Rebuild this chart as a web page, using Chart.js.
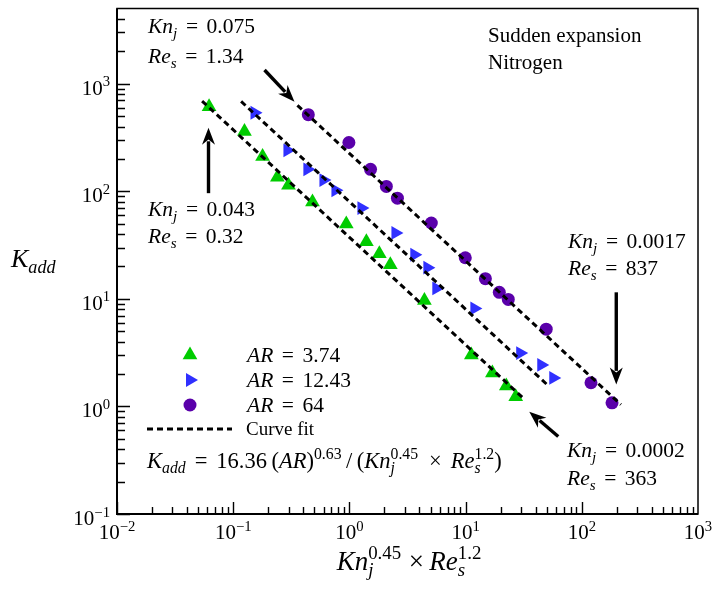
<!DOCTYPE html>
<html>
<head>
<meta charset="utf-8">
<script src="https://cdn.jsdelivr.net/npm/chart.js@4.4.1/dist/chart.umd.min.js"></script>
<style>
  html, body { margin: 0; padding: 0; background: #fff; }
  canvas { display: block; }
</style>
</head>
<body>
<canvas id="kaddChart" width="713" height="590"></canvas>
<script>
// K_add against Kn_j^0.45 x Re_s^1.2 for the sudden expansion (nitrogen)
const ar374X = [0.062, 0.125, 0.179, 0.240, 0.299, 0.481, 0.94, 1.40, 1.81, 2.25, 4.42, 11.2, 17.0, 22.4, 27.0];
const ar374Y = [610, 359, 211, 135, 114, 79.3, 49.7, 33.9, 26.3, 20.8, 9.67, 3.0, 2.05, 1.55, 1.23];

const ar1243X = [0.1525, 0.293, 0.435, 0.598, 0.758, 1.27, 2.49, 3.62, 4.69, 5.60, 11.9, 29.5, 44.8, 56.8];
const ar1243Y = [537, 240, 160, 127, 102, 69.8, 41.0, 25.7, 19.5, 12.5, 8.15, 3.13, 2.43, 1.84];

const ar64X = [0.443, 0.99, 1.52, 2.08, 2.59, 5.07, 9.94, 14.8, 19.5, 23.3, 49.4, 120, 182];
const ar64Y = [515, 284, 160, 111, 86.3, 50.7, 24.1, 15.4, 11.5, 9.87, 5.22, 1.66, 1.08];

// curve fit end points, one straight line per aspect ratio
const fit374X = [0.054, 32];
const fit374Y = [690, 1.17];
const fit1243X = [0.117, 51.4];
const fit1243Y = [684, 1.56];
const fit64X = [0.357, 217];
const fit64Y = [630, 1.04];

const xTickExps = [-2, -1, 0, 1, 2, 3];
const yTickExps = [-1, 0, 1, 2, 3];
const legendLabels = ['3.74', '12.43', '64'];

const GREEN = '#00cc00';
const BLUE = '#3030ff';
const PURPLE = '#5a00aa';
const SERIF = '"Liberation Serif", "DejaVu Serif", serif';

const pairs = (xs, ys) => xs.map((x, i) => ({ x: x, y: ys[i] }));

function fitLine(xs, ys) {
  return {
    data: pairs(xs, ys),
    showLine: true,
    borderColor: '#000',
    borderWidth: 3,
    borderDash: [6, 4],
    pointRadius: 0,
    fill: false
  };
}

// draw a run of text pieces, italic / subscript / superscript
function drawRich(ctx, x, y, parts, size, align) {
  const small = size * 0.7;
  const runs = parts.map(p => {
    const fMain = (p.i ? 'italic ' : '') + (p.sub || p.sup ? small : size) + 'px ' + SERIF;
    ctx.font = fMain;
    let w = ctx.measureText(p.t).width;
    let supW = 0;
    if (p.sub && p.sup) {
      ctx.font = small + 'px ' + SERIF;
      supW = ctx.measureText(p.sup).width;
    }
    return { p: p, font: fMain, width: Math.max(w, supW) + (p.gap || 0) };
  });
  const total = runs.reduce((s, r) => s + r.width, 0);
  let cx = align === 'center' ? x - total / 2 : align === 'right' ? x - total : x;
  ctx.fillStyle = '#000';
  ctx.textBaseline = 'alphabetic';
  ctx.textAlign = 'left';
  runs.forEach(r => {
    const p = r.p;
    ctx.font = r.font;
    if (p.sub && p.sup) {
      ctx.fillText(p.t, cx, y + size * 0.22);
      ctx.font = small + 'px ' + SERIF;
      ctx.fillText(p.sup, cx, y - size * 0.4);
    } else if (p.sub) {
      ctx.fillText(p.t, cx, y + size * 0.22);
    } else if (p.sup) {
      ctx.fillText(p.t, cx, y - size * 0.4);
    } else {
      ctx.fillText(p.t, cx, y);
    }
    cx += r.width;
  });
}

// math-style relation: wider spacing around "="
const EQ = '\u2009\u2009=\u2009\u2009';

function knRe(kn, re) {
  return [
    [{ t: 'Kn', i: true }, { t: 'j', i: true, sub: true }, { t: EQ + kn }],
    [{ t: 'Re', i: true }, { t: 's', i: true, sub: true }, { t: EQ + re }]
  ];
}

function marker(ctx, style, x, y, r, color) {
  ctx.fillStyle = color;
  ctx.beginPath();
  if (style === 'circle') {
    ctx.arc(x, y, r, 0, Math.PI * 2);
  } else {
    const rot = style === 'right' ? Math.PI / 2 : 0;
    for (let k = 0; k < 3; k++) {
      const a = rot + k * 2 * Math.PI / 3;
      const px = x + Math.sin(a) * r;
      const py = y - Math.cos(a) * r;
      k === 0 ? ctx.moveTo(px, py) : ctx.lineTo(px, py);
    }
    ctx.closePath();
  }
  ctx.fill();
}

// arrows given in data units: [tailX, tailY, tipX, tipY]
const arrows = [
  [0.186, 1340, 0.337, 680],
  [0.0613, 96, 0.0613, 390],
  [198, 11.5, 198, 1.6],
  [62.7, 0.525, 35.3, 0.894]
];

function drawArrow(ctx, x0, y0, x1, y1) {
  const dx = x1 - x0, dy = y1 - y0;
  const len = Math.hypot(dx, dy);
  const ux = dx / len, uy = dy / len;
  const head = 17, half = 6.5;
  ctx.strokeStyle = '#000';
  ctx.lineWidth = 3.4;
  ctx.beginPath();
  ctx.moveTo(x0, y0);
  ctx.lineTo(x1 - ux * head * 0.8, y1 - uy * head * 0.8);
  ctx.stroke();
  ctx.fillStyle = '#000';
  ctx.beginPath();
  ctx.moveTo(x1, y1);
  ctx.lineTo(x1 - ux * head - uy * half, y1 - uy * head + ux * half);
  ctx.lineTo(x1 - ux * head * 0.7, y1 - uy * head * 0.7);
  ctx.lineTo(x1 - ux * head + uy * half, y1 - uy * head - ux * half);
  ctx.closePath();
  ctx.fill();
}

const decorPlugin = {
  id: 'decor',
  afterDraw(chart) {
    const ctx = chart.ctx;
    const xs = chart.scales.x, ys = chart.scales.y;
    const a = chart.chartArea;
    ctx.save();

    // frame
    ctx.strokeStyle = '#000';
    ctx.lineWidth = 1.5;
    ctx.strokeRect(a.left, a.top, a.right - a.left, a.bottom - a.top);
    ctx.lineWidth = 2;
    ctx.beginPath();
    ctx.moveTo(a.left, a.top);
    ctx.lineTo(a.left, a.bottom);
    ctx.lineTo(a.right, a.bottom);
    ctx.stroke();

    // inward ticks on the left and bottom axes
    ctx.lineWidth = 1.4;
    ctx.beginPath();
    for (let d = -2; d <= 2; d++) {
      for (let m = 1; m <= 9; m++) {
        const px = Math.round(xs.getPixelForValue(m * Math.pow(10, d))) + 0.5;
        const l = m === 1 ? 12 : 7;
        ctx.moveTo(px, a.bottom);
        ctx.lineTo(px, a.bottom - l);
      }
    }
    for (let d = -1; d <= 3; d++) {
      for (let m = 1; m <= 9; m++) {
        const v = m * Math.pow(10, d);
        if (v >= ys.max) continue;
        const py = Math.round(ys.getPixelForValue(v)) + 0.5;
        const l = m === 1 ? 13 : 8;
        ctx.moveTo(a.left, py);
        ctx.lineTo(a.left + l, py);
      }
    }
    ctx.stroke();

    // tick labels 10^n
    const expTxt = n => (n < 0 ? '\u2212' + (-n) : String(n));
    xTickExps.forEach(n => {
      drawRich(ctx, xs.getPixelForValue(Math.pow(10, n)), a.bottom + 25,
        [{ t: '10' }, { t: expTxt(n), sup: true }], 21, 'center');
    });
    yTickExps.forEach(n => {
      drawRich(ctx, a.left - 7, ys.getPixelForValue(Math.pow(10, n)) + 11,
        [{ t: '10' }, { t: expTxt(n), sup: true }], 21, 'right');
    });

    // axis titles
    drawRich(ctx, 409, 570, [
      { t: 'Kn', i: true }, { t: 'j', i: true, sub: true, sup: '0.45', gap: 2 },
      { t: '\u2009\u00d7\u2009' }, { t: 'Re', i: true }, { t: 's', i: true, sub: true, sup: '1.2' }
    ], 27, 'center');
    drawRich(ctx, 11, 267, [{ t: 'K', i: true }, { t: 'add', i: true, sub: true }], 26, 'left');

    // annotations
    const notes = [
      [148, 33, 63, knRe('0.075', '1.34')],
      [148, 216, 243, knRe('0.043', '0.32')],
      [568, 248, 275, knRe('0.0017', '837')],
      [567, 457, 485, knRe('0.0002', '363')]
    ];
    notes.forEach(([x, y1, y2, lines]) => {
      drawRich(ctx, x, y1, lines[0], 21.5, 'left');
      drawRich(ctx, x, y2, lines[1], 21.5, 'left');
    });
    ctx.font = '21px ' + SERIF;
    ctx.fillStyle = '#000';
    ctx.fillText('Sudden expansion', 488, 42);
    ctx.fillText('Nitrogen', 488, 69);

    arrows.forEach(([tx, ty, hx, hy]) => {
      drawArrow(ctx, xs.getPixelForValue(tx), ys.getPixelForValue(ty),
        xs.getPixelForValue(hx), ys.getPixelForValue(hy));
    });

    // legend
    const styles = [['up', GREEN, 8.5], ['right', BLUE, 8], ['circle', PURPLE, 6.5]];
    const rowY = [355, 380, 405];
    styles.forEach(([s, c, r], k) => {
      marker(ctx, s, 190, rowY[k], r, c);
      drawRich(ctx, 247, rowY[k] + 7, [{ t: 'AR', i: true }, { t: EQ + legendLabels[k] }], 21.5, 'left');
    });
    ctx.strokeStyle = '#000';
    ctx.lineWidth = 3;
    ctx.setLineDash([6, 4]);
    ctx.beginPath();
    ctx.moveTo(147, 429);
    ctx.lineTo(232, 429);
    ctx.stroke();
    ctx.setLineDash([]);
    ctx.font = '19px ' + SERIF;
    ctx.fillStyle = '#000';
    ctx.fillText('Curve fit', 246, 435);

    drawRich(ctx, 147, 468, [
      { t: 'K', i: true }, { t: 'add', i: true, sub: true }, { t: EQ + '16.36\u2009(' },
      { t: 'AR', i: true }, { t: ')' }, { t: '0.63', sup: true }, { t: '\u2009/\u2009(' },
      { t: 'Kn', i: true }, { t: 'j', i: true, sub: true, sup: '0.45', gap: 2 }, { t: '\u2009\u2009\u00d7\u2009\u2009' },
      { t: 'Re', i: true }, { t: 's', i: true, sub: true, sup: '1.2' }, { t: ')' }
    ], 22.5, 'left');

    ctx.restore();
  }
};

new Chart(document.getElementById('kaddChart'), {
  type: 'scatter',
  data: {
    datasets: [
      fitLine(fit374X, fit374Y),
      fitLine(fit1243X, fit1243Y),
      fitLine(fit64X, fit64Y),
      {
        label: 'AR = 3.74',
        data: pairs(ar374X, ar374Y),
        pointStyle: 'triangle',
        pointRadius: 8.5,
        backgroundColor: GREEN,
        borderWidth: 0
      },
      {
        label: 'AR = 12.43',
        data: pairs(ar1243X, ar1243Y),
        pointStyle: 'triangle',
        rotation: 90,
        pointRadius: 8,
        backgroundColor: BLUE,
        borderWidth: 0
      },
      {
        label: 'AR = 64',
        data: pairs(ar64X, ar64Y),
        pointStyle: 'circle',
        pointRadius: 6.5,
        backgroundColor: PURPLE,
        borderWidth: 0
      }
    ]
  },
  options: {
    responsive: false,
    animation: false,
    layout: { padding: { left: 117, top: 6, right: 15, bottom: 76 } },
    plugins: { legend: { display: false }, tooltip: { enabled: false } },
    scales: {
      x: { type: 'logarithmic', min: 0.01, max: 1000, display: false },
      y: { type: 'logarithmic', min: 0.1, max: 5000, display: false }
    }
  },
  plugins: [decorPlugin]
});
</script>
</body>
</html>
